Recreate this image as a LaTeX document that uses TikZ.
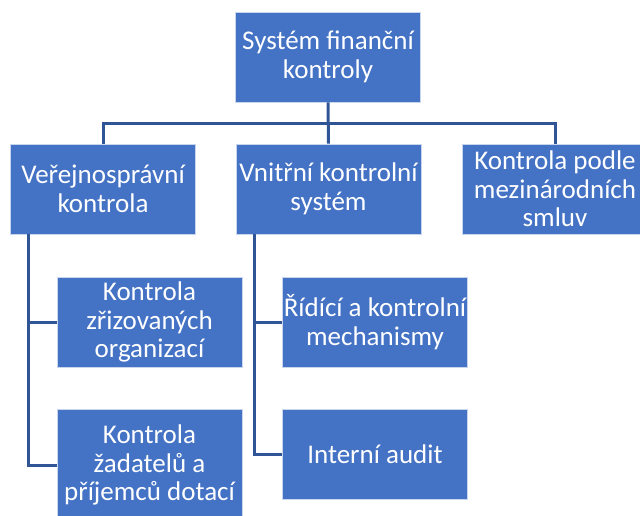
\documentclass[tikz,border=0pt]{standalone}
\usepackage{fontspec}
\setmainfont{Carlito}
\definecolor{boxblue}{HTML}{4472C4}
\definecolor{lineblue}{HTML}{2F5597}
\begin{document}
\begin{tikzpicture}[x=1pt,y=-1pt]
  \tikzstyle{box}=[draw=white!70!boxblue,line width=0.8pt,fill=boxblue,text=white,align=center,
    minimum width=185pt,minimum height=90pt,inner sep=0pt,font=\fontsize{27}{28.5}\selectfont]
  \tikzstyle{link}=[draw=lineblue,line width=3pt]
  \useasboundingbox (0,0) rectangle (640,515);
  \node[box] (S) at (328,57) {Systém finanční\\kontroly};
  \node[box] (A) at (103,189) {Veřejnosprávní\\kontrola};
  \node[box] (V) at (328.5,189) {Vnitřní kontrolní\\systém};
  \node[box] (M) at (555,189) {Kontrola podle\\mezinárodních\\smluv};
  \node[box] (A1) at (149.5,322) {Kontrola\\zřizovaných\\organizací};
  \node[box,minimum height=112pt] (A2) at (149.5,465) {Kontrola\\žadatelů a\\příjemců dotací};
  \node[box] (V1) at (375,322) {Řídící a kontrolní\\mechanismy};
  \node[box] (V2) at (375,454) {Interní audit};
  \coordinate (bus) at (328,123);
  \draw[link] (S.south) -- (V.north);
  \draw[link] (A.north) -- (A.north |- bus) -- (M.north |- bus) -- (M.north);
  \draw[link] ([xshift=18pt]A.south west) |- (A1.west);
  \draw[link] ([xshift=18pt]A.south west) |- (A2.west);
  \draw[link] ([xshift=19pt]V.south west) |- (V1.west);
  \draw[link] ([xshift=19pt]V.south west) |- (V2.west);
\end{tikzpicture}
\end{document}
